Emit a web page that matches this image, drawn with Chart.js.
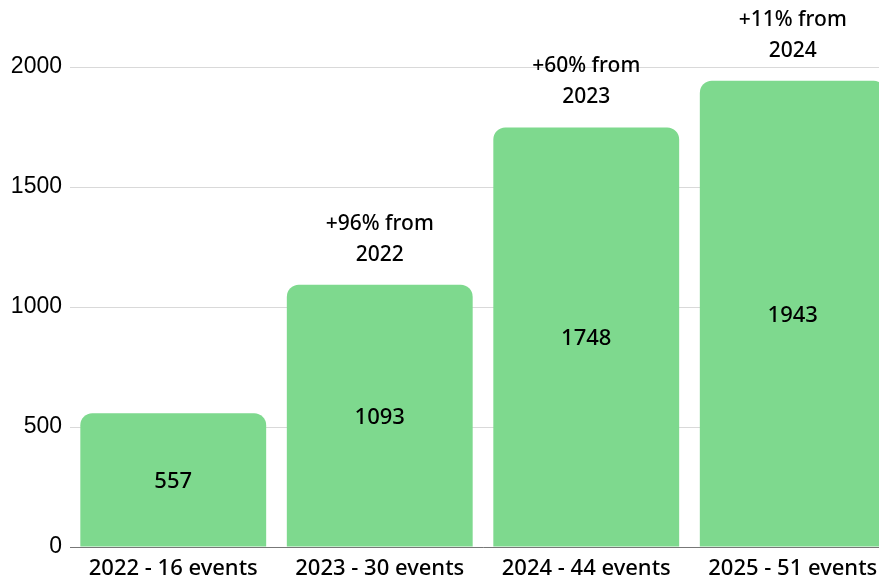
<!DOCTYPE html>
<html>
<head>
<meta charset="utf-8">
<script src="https://cdn.jsdelivr.net/npm/chart.js@4"></script>
<style>
  html, body { margin: 0; padding: 0; background: #fff; overflow: hidden; }
  #wrap { width: 896px; height: 584px; }
</style>
</head>
<body>
<div id="wrap"><canvas id="myChart"></canvas></div>
<script>
const categories = ["2022 - 16 events", "2023 - 30 events", "2024 - 44 events", "2025 - 51 events"];
const attendees = [557, 1093, 1748, 1943];
const growthNotes = [null, ["+96% from", "2022"], ["+60% from", "2023"], ["+11% from", "2024"]];
const yTicks = [0, 500, 1000, 1500, 2000];

const labelFont = "'Noto Sans', sans-serif";

// draws the value inside each bar and the growth note above it
const barLabels = {
  id: 'barLabels',
  afterDatasetsDraw(chart) {
    const ctx = chart.ctx;
    const meta = chart.getDatasetMeta(0);
    ctx.save();
    ctx.fillStyle = '#000';
    ctx.textAlign = 'center';
    ctx.textBaseline = 'middle';
    meta.data.forEach(function(bar, i) {
      ctx.font = '500 22px ' + labelFont;
      ctx.fillText(attendees[i], bar.x, (bar.y + bar.base) / 2 + 2);
      const note = growthNotes[i];
      if (note) {
        ctx.font = '500 21px ' + labelFont;
        ctx.fillText(note[0], bar.x, bar.y - 61);
        ctx.fillText(note[1], bar.x, bar.y - 30);
      }
    });
    ctx.restore();
  }
};

new Chart(document.getElementById('myChart'), {
  type: 'bar',
  data: {
    labels: categories,
    datasets: [{
      data: attendees,
      backgroundColor: '#7ed98e',
      borderRadius: { topLeft: 12, topRight: 12 },
      borderSkipped: 'bottom',
      categoryPercentage: 1,
      barPercentage: 0.9
    }]
  },
  plugins: [barLabels],
  options: {
    responsive: true,
    maintainAspectRatio: false,
    animation: false,
    events: [],
    layout: { padding: { top: 67, left: 0, right: 0, bottom: 0 } },
    plugins: {
      legend: { display: false },
      tooltip: { enabled: false }
    },
    scales: {
      x: {
        grid: { display: false, drawTicks: false },
        border: { display: true, color: '#777', width: 1 },
        ticks: {
          color: '#000',
          padding: 9,
          font: { family: labelFont, size: 22, weight: '500' }
        },
        afterFit: function(scale) { scale.height = 37; }
      },
      y: {
        min: 0,
        max: 2000,
        afterBuildTicks: function(scale) {
          scale.ticks = yTicks.map(function(v) { return { value: v }; });
        },
        grid: { color: '#d9d9d9', drawTicks: false },
        border: { display: false },
        ticks: {
          color: '#000',
          padding: 8,
          font: { family: "'Liberation Sans', Arial, sans-serif", size: 23 },
          callback: function(value) { return String(value); }
        },
        afterFit: function(scale) { scale.width = 70; }
      }
    }
  }
});
</script>
</body>
</html>
